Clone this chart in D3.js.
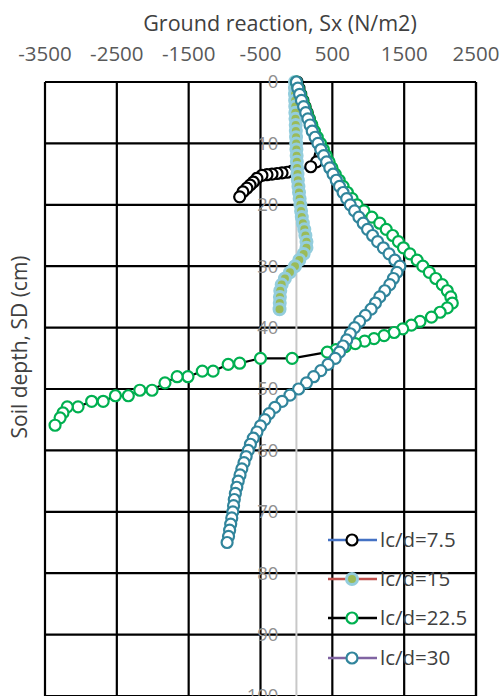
<!DOCTYPE html>
<html><head><meta charset="utf-8">
<script src="https://cdn.jsdelivr.net/npm/d3@7"></script>
<style>html,body{margin:0;padding:0;background:#fff;overflow:hidden}svg{display:block}</style>
</head><body>
<svg id="c" width="502" height="696"></svg>
<script>
const categories = ["lc/d=7.5","lc/d=15","lc/d=22.5","lc/d=30"];
const xTicks = [-3500,-2500,-1500,-500,500,1500,2500];
const yTicks = [0,10,20,30,40,50,60,70,80,90,100];
const xTitle = "Ground reaction, Sx (N/m2)";
const yTitle = "Soil depth, SD (cm)";

const depth75 = [0,1,2,3,4,5,6,7,8,9,10,11,12,13,13.8,14.5,14.7,14.8,14.9,15,15.1,15.2,15.7,16.3,16.8,17.3,17.9,18.7];
const sx75    = [10,35,60,90,120,150,180,210,240,275,310,345,330,280,200,-60,-130,-200,-270,-340,-410,-480,-550,-600,-645,-690,-745,-790];

const depth15 = [0,1,2,3,4,5,6,7,8,9,10,11,12,13,14,15,16,17,18,19,20,21,22,23,24,25,26,27,28,29,30,31,32,33,34,35,36,37];
const sx15    = [-20,-20,-20,-18,-16,-15,-13,-10,-8,-5,-3,0,3,6,10,15,20,28,36,45,55,65,75,90,110,125,140,140,100,40,-20,-90,-160,-205,-225,-230,-232,-235];

const depth225 = [0,1,2,3,4,5,6,7,8,9,10,11,12,13,14,15,16,17,18,19,20,21,22,23,24,25,26,27,28,29,30,31,32,33,34,35,36,
  36.8,37.5,38.3,39,39.6,40.2,40.8,41.3,41.8,42.2,42.6,43.1,43.6,44,
  45,45,45.8,46,47.1,47.1,48,48,49,50.2,50.2,51.1,51.1,52,52,52.9,52.9,53.9,54.7,55.9];
const sx225    = [0,25,55,85,115,145,180,215,250,290,335,375,415,455,495,540,595,650,710,775,845,940,1050,1160,1250,1340,1420,1490,1580,1680,1760,1850,1940,2030,2100,2150,2170,
  2100,2000,1880,1720,1600,1480,1360,1220,1080,950,820,680,550,430,
  -60,-500,-790,-950,-1160,-1310,-1510,-1660,-1830,-2010,-2180,-2340,-2520,-2690,-2850,-3040,-3190,-3250,-3290,-3360];

const depth30 = [0,1,2,3,4,5,6,7,8,9,10,11,12,13,14,15,16,17,18,19,20,21,22,23,24,25,26,27,28,29,30,31,32,33,34,35,36,37,38,39,40,41,42,43,44,45,46,47,48,49,50,51,52,53,54,55,56,57,58,59,60,61,62,63,64,65,66,67,68,69,70,71,72,73,74,75];
const sx30    = [0,20,45,70,100,130,160,190,220,260,300,340,380,420,465,510,555,600,650,700,750,810,870,930,990,1060,1130,1210,1290,1370,1440,1400,1350,1300,1230,1160,1100,1040,960,880,810,750,700,650,600,540,440,340,240,140,30,-90,-200,-300,-380,-440,-500,-550,-600,-640,-670,-700,-730,-760,-785,-810,-830,-850,-865,-875,-885,-900,-915,-930,-945,-965];

const lineColors   = ["#4472C4","#C0504D","#000000","#8064A2"];
const markerStroke = ["#000000","#93CDDD","#00B050","#31859C"];
const markerFill   = ["#FFFFFF","#9BBB59","#FFFFFF","#FFFFFF"];
const markerSW     = [2.2, 3, 2.2, 2.2];

const seriesDepth = [depth75, depth15, depth225, depth30];
const seriesSx = [sx75, sx15, sx225, sx30];

const svg = d3.select("#c");
const font = "'Open Sans', 'Noto Sans', sans-serif";
const x = d3.scaleLinear().domain([-3500, 2500]).range([45, 476]);
const y = d3.scaleLinear().domain([0, 100]).range([82, 696]);

// grid
const grid = svg.append("g");
grid.selectAll("line.v").data(xTicks.concat([-3500 + 6000])).enter().append("line")
  .attr("x1", d => x(d)).attr("x2", d => x(d)).attr("y1", y(0)).attr("y2", y(100))
  .attr("stroke", "#000").attr("stroke-width", 2.2);
grid.selectAll("line.h").data(yTicks).enter().append("line")
  .attr("x1", x(-3500)).attr("x2", x(2500)).attr("y1", d => y(d)).attr("y2", d => y(d))
  .attr("stroke", "#000").attr("stroke-width", 2.2);

// zero axis
svg.append("line").attr("x1", x(0)).attr("x2", x(0)).attr("y1", y(0)).attr("y2", y(100))
  .attr("stroke", "#c8c8c8").attr("stroke-width", 2);

// y tick labels
svg.append("g").selectAll("text").data(yTicks).enter().append("text")
  .attr("x", x(0) - 18).attr("y", d => y(d)).attr("dy", "0.35em")
  .attr("text-anchor", "end").attr("font-family", font).attr("font-size", 18.5)
  .attr("fill", "#8f8f8f").text(d => d);

// top tick labels
svg.append("g").selectAll("text").data(xTicks).enter().append("text")
  .attr("x", d => x(d)).attr("y", 61).attr("text-anchor", "middle")
  .attr("font-family", font).attr("font-size", 20.5).attr("fill", "#595959").text(d => d);

svg.append("text").attr("x", 280).attr("y", 31).attr("text-anchor", "middle")
  .attr("font-family", font).attr("font-size", 21.5).attr("fill", "#404040").text(xTitle);

svg.append("text").attr("transform", "translate(27,347) rotate(-90)").attr("text-anchor", "middle")
  .attr("font-family", font).attr("font-size", 21).attr("fill", "#404040").text(yTitle);

// series
const line = d3.line().x(d => x(d[1])).y(d => y(d[0]));
seriesDepth.forEach((dep, i) => {
  const pts = dep.map((d, j) => [d, seriesSx[i][j]]);
  const g = svg.append("g");
  g.append("path").attr("d", line(pts)).attr("fill", "none")
    .attr("stroke", lineColors[i]).attr("stroke-width", 2.2);
  g.selectAll("circle").data(pts).enter().append("circle")
    .attr("cx", d => x(d[1])).attr("cy", d => y(d[0])).attr("r", 5.5)
    .attr("fill", markerFill[i]).attr("stroke", markerStroke[i]).attr("stroke-width", markerSW[i]);
});

// legend
const legY = [540, 579, 618, 658];
const leg = svg.append("g");
categories.forEach((c, i) => {
  leg.append("line").attr("x1", 328).attr("x2", 377).attr("y1", legY[i]).attr("y2", legY[i])
    .attr("stroke", lineColors[i]).attr("stroke-width", 2.5);
  leg.append("circle").attr("cx", 352).attr("cy", legY[i]).attr("r", 5.5)
    .attr("fill", markerFill[i]).attr("stroke", markerStroke[i]).attr("stroke-width", markerSW[i]);
  leg.append("text").attr("x", 380).attr("y", legY[i]).attr("dy", "0.35em")
    .attr("font-family", font).attr("font-size", 20.5).attr("fill", "#404040").text(c);
});
</script>
</body></html>
